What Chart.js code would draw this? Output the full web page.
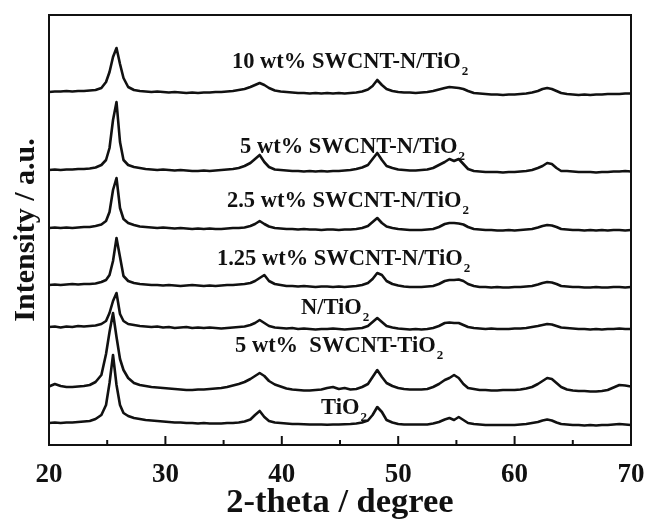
<!DOCTYPE html>
<html>
<head>
<meta charset="utf-8">
<script src="https://cdn.jsdelivr.net/npm/chart.js@4"></script>
<style>
  body { margin: 0; background: #fff; }
  #wrap { width: 646px; height: 520px; }
</style>
</head>
<body>
<div id="wrap"><canvas id="xrd" width="646" height="520"></canvas></div>
<script>
// 2-theta positions shared by every pattern
const twoTheta = [
  20, 20.5, 21, 21.5, 22, 22.5, 23, 23.5, 24, 24.5,
  24.9, 25.2, 25.5, 25.8, 26.1, 26.4, 26.8,
  27.3, 27.8, 28.3, 28.8, 29.3, 29.8, 30.3, 30.8, 31.3, 31.8, 32.3, 32.8, 33.3, 33.8, 34.3, 34.8, 35.3, 35.8, 36.3, 36.8, 37.3,
  37.7, 38.1, 38.5, 38.9,
  39.4, 39.9, 40.4, 40.9, 41.4, 41.9, 42.4, 42.9, 43.4, 43.9, 44.4, 44.9, 45.4, 45.9, 46.4, 46.9, 47.4,
  47.8, 48.2, 48.6, 49.0,
  49.5, 50, 50.5, 51, 51.5, 52, 52.5, 53, 53.5, 54,
  54.4, 54.8, 55.2, 55.6, 56,
  56.5, 57, 57.5, 58, 58.5, 59, 59.5, 60, 60.5, 61, 61.5, 62,
  62.4, 62.8, 63.2, 63.6, 64,
  64.5, 65, 65.5, 66, 66.5, 67, 67.5, 68, 68.5, 69, 69.5, 70
];

// intensities (a.u.) above each pattern's own baseline
const tio2 = [
  0, 0.5, 0, 0.5, 0.5, 1, 1.5, 2, 4, 8,
  18, 40, 68, 38, 18, 10, 7,
  5, 4, 3, 2.5, 2, 1.5, 1, 0.5, 0.5, 0, 0, -0.5, 0, -0.5, -0.5, -0.5, 0, 0, 0.5, 1.5, 3.5,
  8, 12, 6, 2,
  0.5, 0, -0.5, -1, -1, -1.2, -1.5, -1.5, -1.5, -1.8, -1.5, -1.5, -1.2, -1, -0.5, 0.5, 2.5,
  8, 16, 11, 3,
  0.5, -1, -1.5, -1.5, -1.5, -1.5, -1.5, -0.5, 1, 3.5,
  5, 3, 6, 3, 0,
  -1, -1.5, -2, -2, -2, -2, -2, -2, -1.5, -1, 0, 1,
  2.5, 3.5, 2.5, 0.5, -1,
  -1.5, -2, -2, -2.5, -2, -2.5, -2, -2, -1.5, -1, -1.5, -2
];
const swcntTio2 = [
  0.5, 3, 1, 0, 0, 0.5, 1, 2, 5, 12,
  33, 55, 74, 50, 28, 17, 9,
  4, 2, 1, 0, -0.5, -1, -1.5, -2, -2.5, -3, -3, -2.5, -2.5, -2, -1.5, -1, 0, 1.5, 3, 5, 8,
  11, 14, 11, 6,
  2.5, 0.5, -1.5, -2.5, -3, -3.5, -3.5, -3, -2.5, -1, 0, -2, -1, -2.5, -2, 0, 3,
  10, 17, 10, 4,
  1, -1, -2, -2.5, -2.5, -2.5, -2, 0, 3, 7,
  9, 12, 9, 3, -1,
  -2, -3, -3, -3.5, -3.5, -3, -3, -3, -2.5, -1.5, 0, 3,
  6, 9, 8, 4, 0,
  -2.5, -3.5, -4, -4, -4.5, -4.5, -4, -3, -0.5, 2, 1.5, 0.5
];
const nTio2 = [
  0, 0.5, -0.5, 0.5, 0, 1, 0.5, 1, 1.5, 3,
  6, 14, 26, 34, 13, 6, 3,
  2, 1, 0.5, 0, 0.5, -0.5, 0, -1, -0.5, 0, -1, -0.5, -1, -0.5, -1, -1.5, -1, -0.5, 0, 0.5, 2,
  4, 7, 4, 1,
  -0.5, -1, -1.5, -1, -2, -1.5, -2, -2.5, -2, -2, -1.5, -2, -2.5, -2, -1.5, -1, 1,
  5, 9, 5, 1,
  -0.5, -1.5, -2, -2.5, -2, -2.5, -2, -1, 1, 4,
  4.5, 4, 4, 2, 0,
  -1, -1.5, -2, -1.5, -2, -2, -2, -1.5, -1.5, -1, 0, 1,
  2, 3, 2.5, 1, -0.5,
  -1, -1.5, -2, -2, -2.5, -2, -2.5, -2, -2, -1.5, -2, -2
];
const swcntN125 = [
  0, 0.5, 0, 0.5, 1, 0.5, 1, 1, 1.5, 3,
  5, 10, 24, 47, 28, 9, 4,
  2, 1, 0.5, 0, 0, -0.5, 0, -0.5, -1, -0.5, 0, -0.5, -1, -0.5, -1, -0.5, 0, 0, 0.5, 1, 2,
  4, 7, 10, 4,
  1, 0, -1, -1, -1.5, -1, -1.5, -2, -1.5, -1.5, -2, -1.5, -2, -1.5, -1, 0, 2,
  6, 12, 10, 4,
  1, -0.5, -1.5, -2, -2, -2, -1.5, -1, 1, 4,
  5, 5, 5.5, 4, 1,
  -1, -2, -2, -2.5, -2, -2.5, -2.5, -2, -2, -1.5, -1, 0.5,
  2, 3, 2.5, 1, -1,
  -1.5, -2, -2, -2.5, -2.5, -2, -2.5, -2.5, -2, -2, -2.5, -2
];
const swcntN25 = [
  0, 0.5, 0, 0.5, 0, 0.5, 1, 1, 2, 3.5,
  7, 16, 38, 50, 20, 9, 5,
  3, 1.5, 1, 0.5, 0, 0.5, 0, -0.5, 0, -0.5, -1, -0.5, -1, -0.5, -1, -1, -0.5, 0, 0, 0.5, 2,
  4, 7, 4, 1.5,
  0, -0.5, -1, -1, -1.5, -1, -1.5, -1.5, -2, -1.5, -1.5, -2, -1.5, -1.5, -1, 0, 2,
  6, 10, 5, 1.5,
  0, -1, -1.5, -2, -2, -2, -1.5, -1, 1, 4,
  5, 5, 4.5, 3.5, 1,
  -1, -1.5, -2, -2, -2.5, -2.5, -2, -2.5, -2, -1.5, -1, 0.5,
  2, 3, 2.5, 1, -1,
  -1.5, -2, -2, -2.5, -2, -2.5, -2, -2.5, -2, -2, -2.5, -2
];
const swcntN5 = [
  0, 0.5, 0, 0.5, 0.5, 1, 1, 1.5, 2.5, 5,
  10, 22, 50, 68, 28, 10, 5,
  3, 2, 1, 0.5, 0, 0.5, 0, -0.5, 0, -0.5, -1, -1, -0.5, -1, -0.5, 0, 0.5, 1, 2, 4, 7,
  11, 15, 8, 3,
  0.5, 0, -0.5, -1, -1, -1.5, -1, -1.5, -1, -1.5, -1, -1, -0.5, 0, 1, 2.5, 5,
  11, 17, 10, 4,
  2, 0.5, 0, -0.5, -0.5, 0, 0.5, 2, 5, 8,
  11, 9, 11, 6, 1,
  -1, -1.5, -2, -2, -2, -2.5, -2, -2, -1.5, -1, 0, 2,
  4, 7, 6, 2, -1,
  -1, -1.5, -2, -2, -2, -2.5, -2, -2, -1.5, -1.5, -1, -1.5
];
const swcntN10 = [
  0, 0.5, 0.5, 1, 0.5, 1, 1, 1.5, 2, 4,
  10, 20, 35, 44, 28, 14, 5,
  2, 1, 0.5, 0, 0.5, 0, -0.5, 0, -0.5, -1, -0.5, -1, -0.5, -0.5, 0, 0, 0.5, 1, 2, 3, 5,
  7, 9, 7, 4,
  1.5, 0.5, 0, -0.5, -1, -1, -1.5, -1, -1.5, -1, -1.5, -1, -1.5, -1, -0.5, 0.5, 2.5,
  6, 12, 7, 3,
  1, 0, -0.5, -0.5, -1, -0.5, 0, 1, 2.5, 4,
  5, 4.5, 4, 3, 1,
  -1, -1.5, -2, -2.5, -2.5, -3, -2.5, -2.5, -2, -1.5, -0.5, 1,
  3, 4, 3, 1, -1,
  -2, -2.5, -3, -2.5, -3, -2.5, -2.5, -2, -2, -2, -1.5, -1.5
];

// stacking order, bottom to top
const sampleNames = ['TiO2', '5 wt%  SWCNT-TiO2', 'N/TiO2', '1.25 wt% SWCNT-N/TiO2', '2.5 wt% SWCNT-N/TiO2', '5 wt% SWCNT-N/TiO2', '10 wt% SWCNT-N/TiO2'];
const patterns = [tio2, swcntTio2, nTio2, swcntN125, swcntN25, swcntN5, swcntN10];
const offsets = [22, 58, 118, 160, 217, 275, 353];
const xTicks = [20, 30, 40, 50, 60, 70];

// where each name sits, in data units (2-theta, intensity)
const labelAt = [[43.37, 31], [35.98, 93], [41.65, 131], [34.43, 180], [35.29, 238], [36.41, 292], [35.72, 377]];

const serif = '"Liberation Serif", "DejaVu Serif", serif';

const datasets = patterns.map((p, i) => ({
    label: sampleNames[i],
    data: p.map((v, k) => ({ x: twoTheta[k], y: v + offsets[i] })),
    borderColor: '#111',
    borderWidth: 2.6,
    pointRadius: 0,
    tension: 0,
    borderJoinStyle: 'round',
    fill: false
}));

// frame, inward ticks on the bottom axis, and the sample names
const framePlugin = {
    id: 'frame',
    afterDraw(chart) {
        const { ctx, chartArea: a, scales } = chart;
        const xs = scales.x, ys = scales.y;
        ctx.save();
        ctx.strokeStyle = '#111';
        ctx.lineWidth = 2;
        ctx.strokeRect(a.left, a.top, a.right - a.left, a.bottom - a.top);
        for (let v = 25; v < 70; v += 5) {
            const px = xs.getPixelForValue(v);
            const len = v % 10 === 0 ? 9 : 5;
            ctx.beginPath();
            ctx.moveTo(px, a.bottom);
            ctx.lineTo(px, a.bottom - len);
            ctx.stroke();
        }
        ctx.fillStyle = '#111';
        ctx.textBaseline = 'alphabetic';
        ctx.textAlign = 'left';
        sampleNames.forEach((name, i) => {
            const main = name.slice(0, -1);
            const px = xs.getPixelForValue(labelAt[i][0]);
            const py = ys.getPixelForValue(labelAt[i][1]);
            ctx.font = 'bold 22.5px ' + serif;
            ctx.fillText(main, px, py);
            const w = ctx.measureText(main).width;
            ctx.font = 'bold 13px ' + serif;
            ctx.fillText(name.slice(-1), px + w + 1, py + 7);
        });
        ctx.restore();
    }
};

new Chart(document.getElementById('xrd'), {
    type: 'line',
    data: { datasets: datasets },
    options: {
        responsive: false,
        animation: false,
        layout: { padding: { left: 4, right: 15, top: 15, bottom: 0 } },
        plugins: { legend: { display: false }, tooltip: { enabled: false } },
        scales: {
            x: {
                type: 'linear',
                min: 20,
                max: 70,
                afterBuildTicks: s => { s.ticks = xTicks.map(v => ({ value: v })); },
                afterFit: s => { s.height = 75; },
                ticks: { color: '#111', padding: 0, font: { family: serif, size: 27, weight: 'bold', lineHeight: 2.2 } },
                grid: { display: false, drawTicks: false },
                border: { display: false },
                title: {
                    display: true,
                    text: '2-theta / degree',
                    color: '#111',
                    padding: { top: 0, bottom: 0 },
                    font: { family: serif, size: 34.5, weight: 'bold', lineHeight: 1 }
                }
            },
            y: {
                min: 0,
                max: 430,
                afterFit: s => { s.width = 45; },
                ticks: { display: false },
                grid: { display: false, drawTicks: false },
                border: { display: false },
                title: {
                    display: true,
                    text: 'Intensity / a.u.',
                    color: '#111',
                    padding: { top: 4, bottom: 4 },
                    font: { family: serif, size: 30, weight: 'bold', lineHeight: 1.2 }
                }
            }
        }
    },
    plugins: [framePlugin]
});
</script>
</body>
</html>
